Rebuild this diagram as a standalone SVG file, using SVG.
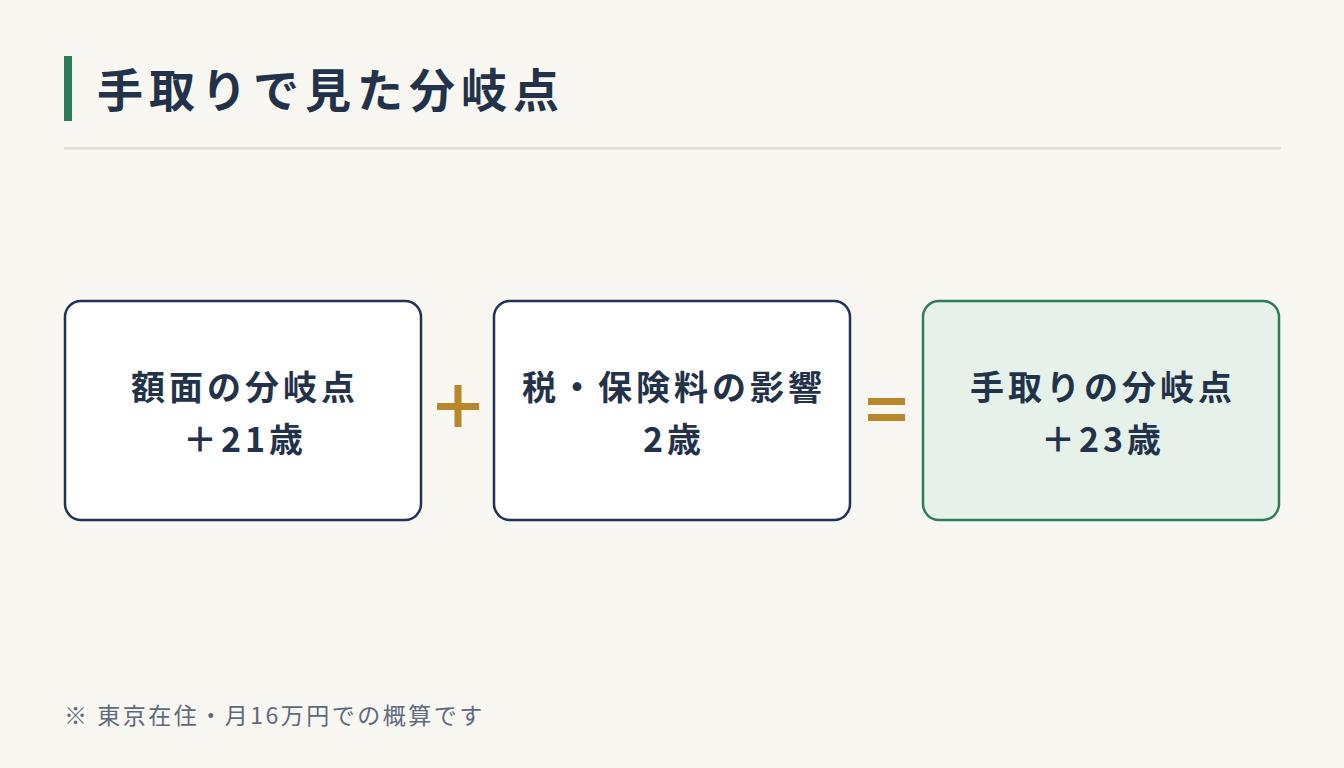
<svg xmlns="http://www.w3.org/2000/svg" width="1344" height="768" viewBox="0 0 1344 768">
<style>
text{font-family:"Noto Sans CJK JP","Noto Sans",sans-serif;fill:#22324a}
.b{font-size:34px;font-weight:700;text-anchor:middle;letter-spacing:4px}
.box{fill:#fff;stroke:#1f3358;stroke-width:2.5}
.op{fill:#b8862b}
</style>
<rect width="1344" height="768" fill="#f9f7f1"/>
<rect x="64" y="56" width="8" height="65" fill="#2e7d57"/>
<text x="97" y="107" font-size="46" font-weight="700" letter-spacing="6">手取りで見た分岐点</text>
<rect x="64" y="147" width="1217" height="2.5" fill="#e0ddd6"/>
<g id="n1"><rect class="box" x="65" y="301" width="356" height="219" rx="16"/>
<text class="b" x="245" y="400">額面の分岐点</text><text class="b" x="245" y="452">＋21歳</text></g>
<g id="plus"><rect class="op" x="437" y="403" width="42" height="7"/><rect class="op" x="454.5" y="385" width="7" height="42"/></g>
<g id="n2"><rect class="box" x="494" y="301" width="356" height="219" rx="16"/>
<text class="b" x="674" y="400">税・保険料の影響</text><text class="b" x="674" y="452">2歳</text></g>
<g id="eq"><rect class="op" x="868" y="398" width="37" height="7"/><rect class="op" x="868" y="414" width="37" height="7"/></g>
<g id="n3"><rect x="923" y="301" width="356" height="219" rx="16" fill="#e6f1ea" stroke="#2e7d57" stroke-width="2.5"/>
<text class="b" x="1103" y="400">手取りの分岐点</text><text class="b" x="1103" y="452">＋23歳</text></g>
<g id="connectors"/>
<text x="64" y="724" font-size="23" letter-spacing="2.5" style="fill:#5e6a80">※ 東京在住・月16万円での概算です</text>
</svg>
